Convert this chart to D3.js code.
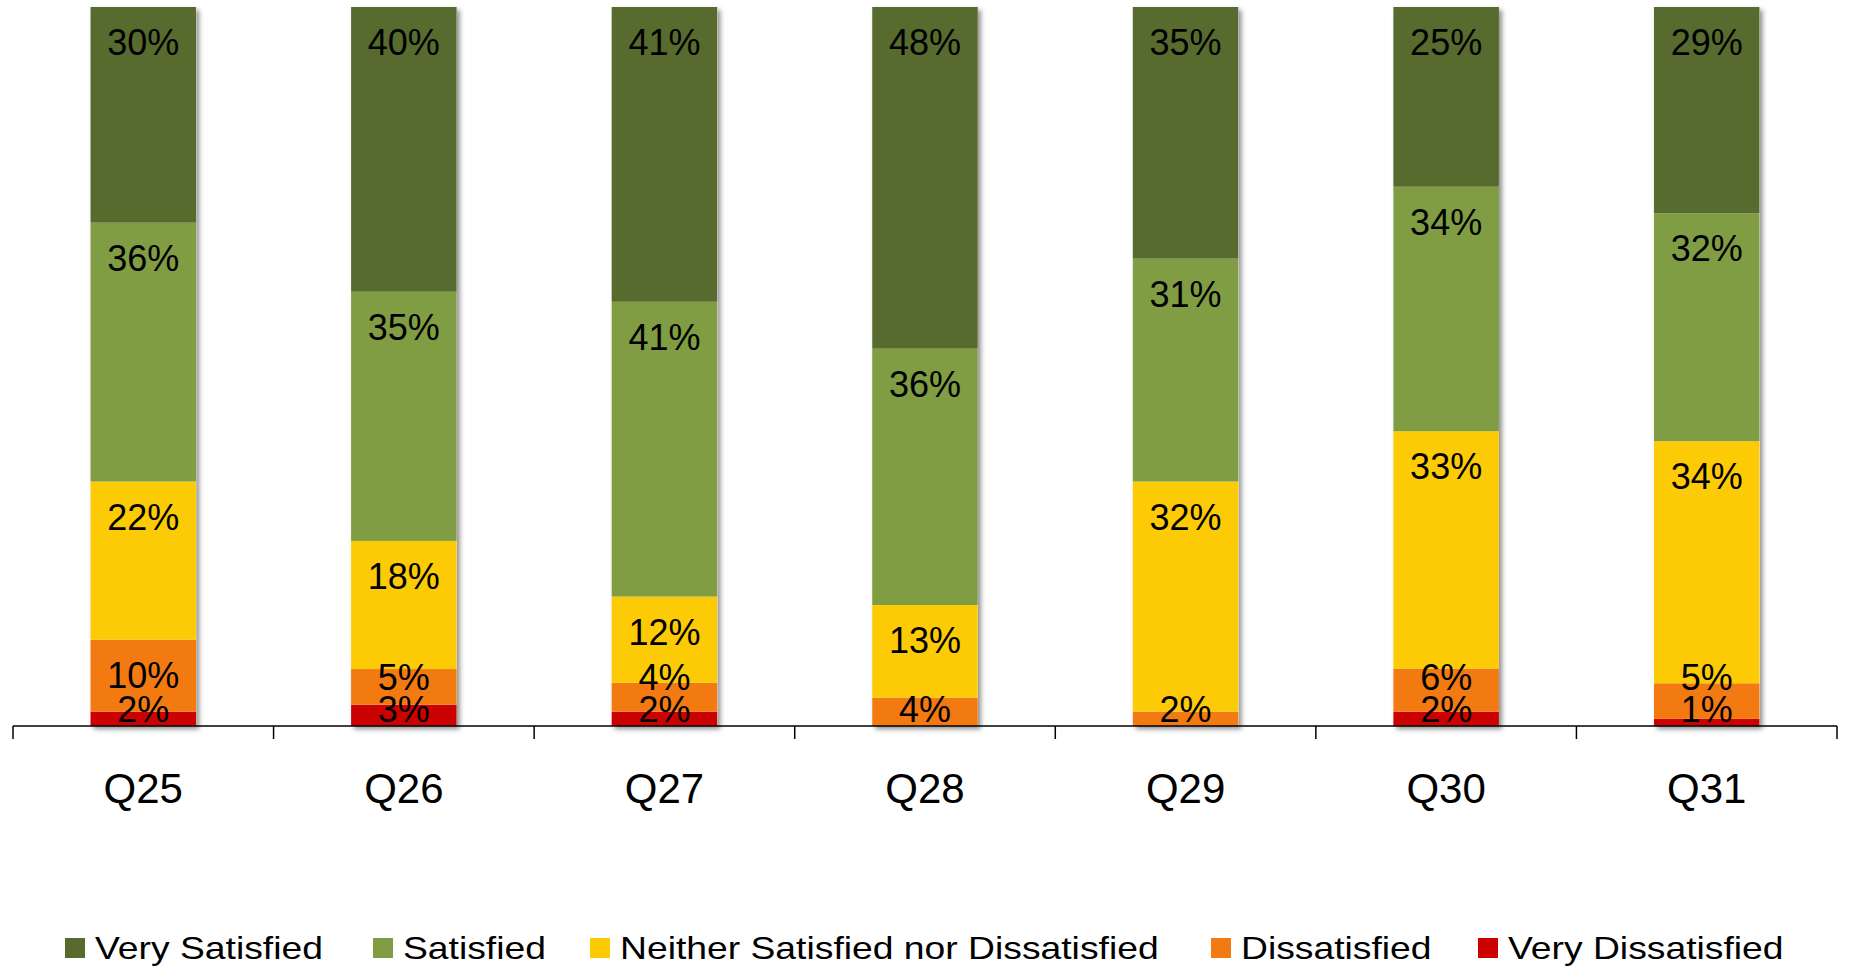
<!DOCTYPE html>
<html>
<head>
<meta charset="utf-8">
<script src="https://cdn.jsdelivr.net/npm/d3@7"></script>
<style>
  html, body { margin: 0; padding: 0; background: #fff; }
  svg { display: block; font-family: "Liberation Sans", Arial, sans-serif; }
</style>
</head>
<body>
<svg id="chart" width="1849" height="972"></svg>
<script>
// Survey questions and response shares (percent) per satisfaction level
const categories = ["Q25", "Q26", "Q27", "Q28", "Q29", "Q30", "Q31"];
const seriesNames = ["Very Dissatisfied", "Dissatisfied", "Neither Satisfied nor Dissatisfied", "Satisfied", "Very Satisfied"];
const veryDissatisfied = [2, 3, 2, 0, 0, 2, 1];
const dissatisfied     = [10, 5, 4, 4, 2, 6, 5];
const neither          = [22, 18, 12, 13, 32, 33, 34];
const satisfied        = [36, 35, 41, 36, 31, 34, 32];
const verySatisfied    = [30, 40, 41, 48, 35, 25, 29];
const legendOrder = ["Very Satisfied", "Satisfied", "Neither Satisfied nor Dissatisfied", "Dissatisfied", "Very Dissatisfied"];
const colors = {
  "Very Satisfied": "#576b2e",
  "Satisfied": "#809d43",
  "Neither Satisfied nor Dissatisfied": "#fdcb05",
  "Dissatisfied": "#f37a11",
  "Very Dissatisfied": "#cc0202"
};

const seriesValues = [veryDissatisfied, dissatisfied, neither, satisfied, verySatisfied];
const rows = categories.map((c, i) => {
  const r = { category: c };
  seriesNames.forEach((s, j) => { r[s] = seriesValues[j][i]; });
  return r;
});

const svg = d3.select("#chart");
const axisY = 726, topY = 7, left = 13, right = 1837;

// Each column fills the full height (100% stacked)
const stack = d3.stack().keys(seriesNames).offset(d3.stackOffsetExpand);
const layers = stack(rows);

const x = d3.scaleBand().domain(categories).range([left, right]).padding(0);
const y = d3.scaleLinear().domain([0, 1]).range([axisY, topY]);
const barW = x.bandwidth() * 0.405;
const barX = c => x(c) + (x.bandwidth() - barW) / 2;

// soft drop shadow behind the columns
const defs = svg.append("defs");
const f = defs.append("filter").attr("id", "shadow")
  .attr("x", "-20%").attr("y", "-5%").attr("width", "140%").attr("height", "110%");
f.append("feDropShadow").attr("dx", 3).attr("dy", 3).attr("stdDeviation", 2.5)
  .attr("flood-color", "#000").attr("flood-opacity", 0.45);

// shadow layer: one full column per category
svg.append("g").selectAll("rect.sh").data(categories).join("rect")
  .attr("class", "sh")
  .attr("x", c => barX(c)).attr("width", barW)
  .attr("y", y(1)).attr("height", y(0) - y(1))
  .attr("fill", "#fff").attr("filter", "url(#shadow)");

const gBars = svg.append("g");
layers.forEach(layer => {
  gBars.append("g").selectAll("rect").data(layer).join("rect")
    .attr("x", d => barX(d.data.category))
    .attr("width", barW)
    .attr("y", d => y(d[1]))
    .attr("height", d => Math.max(0, y(d[0]) - y(d[1])))
    .attr("fill", colors[layer.key]);
});

// value labels: near the top of each segment, pushed up when segments are thin
const gLabels = svg.append("g").attr("font-size", 36).attr("fill", "#000").attr("text-anchor", "middle");
categories.forEach((c, i) => {
  let prev = axisY + 28;
  layers.forEach(layer => {
    const d = layer[i];
    const v = d.data[layer.key];
    if (!v) return;
    const base = Math.min(y(d[1]) + 48, prev - 32);
    prev = base;
    gLabels.append("text")
      .attr("x", barX(c) + barW / 2)
      .attr("y", base)
      .text(v + "%");
  });
});

// category axis with ticks between categories
const gAxis = svg.append("g");
gAxis.append("line").attr("x1", left).attr("x2", right).attr("y1", axisY).attr("y2", axisY)
  .attr("stroke", "#000").attr("stroke-width", 1.5);
const bounds = categories.map(c => x(c)).concat([x(categories[categories.length - 1]) + x.bandwidth()]);
gAxis.selectAll("line.tick").data(bounds).join("line").attr("class", "tick")
  .attr("x1", d => d).attr("x2", d => d).attr("y1", axisY).attr("y2", axisY + 13)
  .attr("stroke", "#000").attr("stroke-width", 1.5);
gAxis.selectAll("text").data(categories).join("text")
  .attr("x", c => x(c) + x.bandwidth() / 2).attr("y", 803)
  .attr("text-anchor", "middle").attr("font-size", 42).attr("fill", "#000")
  .text(c => c);

// legend
const legendX = [65, 373, 590, 1211, 1478];
const gLegend = svg.append("g");
legendOrder.forEach((name, i) => {
  const g = gLegend.append("g").attr("transform", `translate(${legendX[i]},0)`);
  g.append("rect").attr("x", 0).attr("y", 938).attr("width", 20).attr("height", 20)
    .attr("fill", colors[name]);
  g.append("text").attr("transform", "translate(30,959) scale(1.165,1)")
    .attr("font-size", 32).attr("fill", "#000").text(name);
});
</script>
</body>
</html>
